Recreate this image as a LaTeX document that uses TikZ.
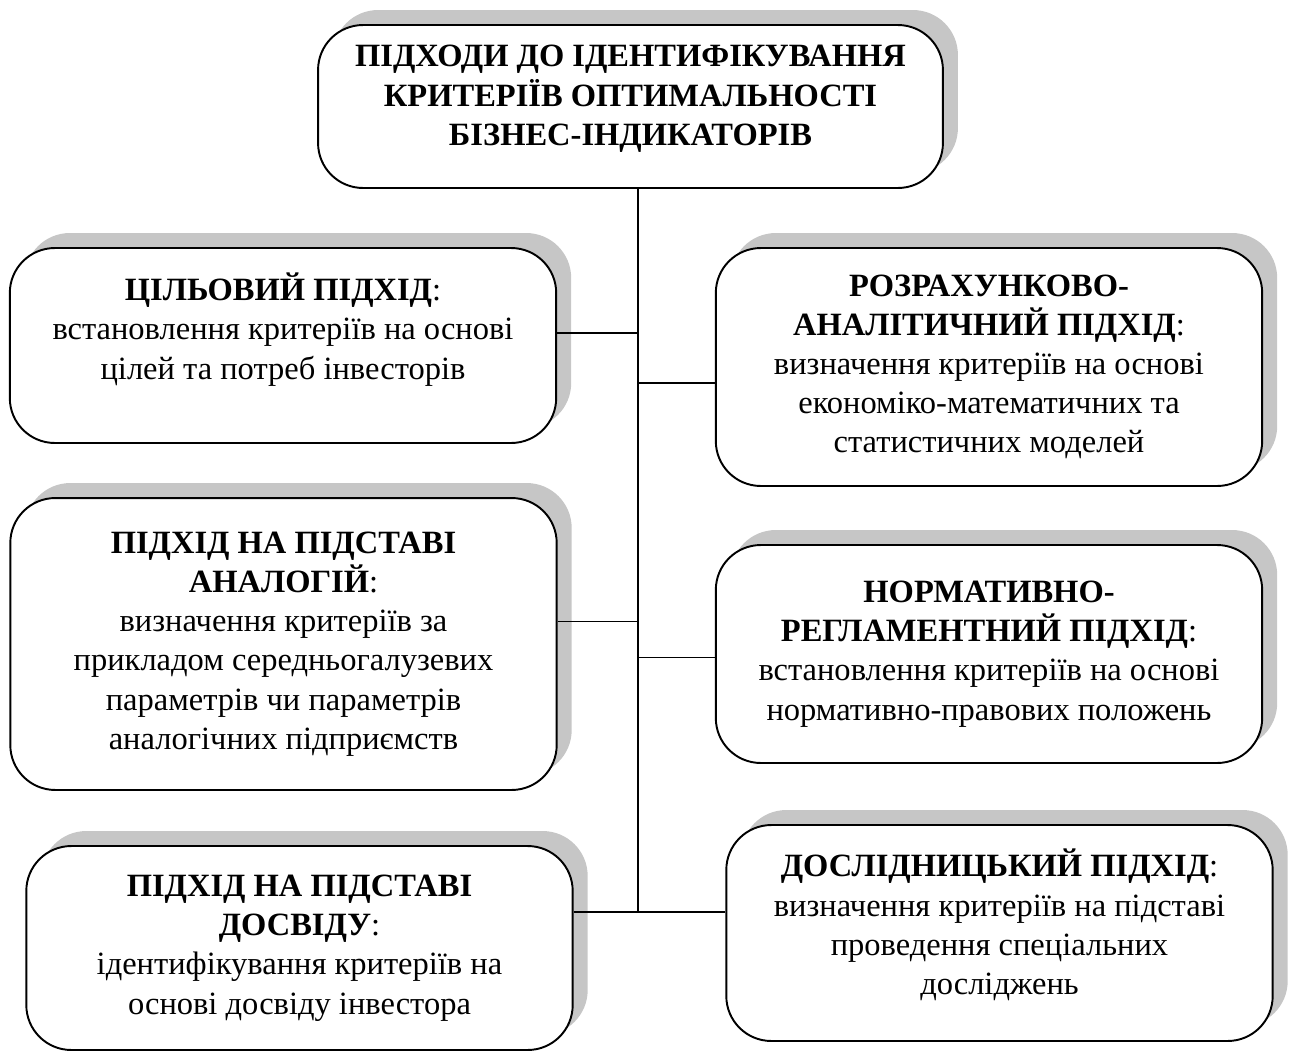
\documentclass[tikz,border=0pt]{standalone}
\usepackage{fontspec}
\setmainfont{Liberation Serif}
\usepackage{tikz}
\usetikzlibrary{shadows}

\begin{document}
\begin{tikzpicture}[x=0.02cm,y=-0.02cm,font=\fontsize{18.5}{22.3}\selectfont,
    approach/.style={draw,line width=1.1pt,fill=white,rounded corners=0.9cm,align=center,
      minimum width=10.93cm,
      drop shadow={shadow xshift=0.3cm,shadow yshift=0.3cm,fill=gray!45,opacity=1}},
    link/.style={line width=0.8pt}]
    \useasboundingbox (0,0) rectangle (1289,1052);

    % Root of the classification.
    \node[approach,minimum width=12.5cm,minimum height=3.26cm,text depth=0.45cm] (root) at (630.5,106.5)
      {\textbf{ПІДХОДИ ДО ІДЕНТИФІКУВАННЯ}\\\textbf{КРИТЕРІЇВ ОПТИМАЛЬНОСТІ}\\\textbf{БІЗНЕС-ІНДИКАТОРІВ}};

    % Left column of approaches.
    \node[approach,minimum height=3.9cm,text depth=0.78cm] (cel) at (283,345.5)
      {\textbf{ЦІЛЬОВИЙ ПІДХІД}:\\встановлення критеріїв на основі\\цілей та потреб інвесторів};
    \node[approach,minimum height=5.84cm] (analog) at (283.5,644)
      {\textbf{ПІДХІД НА ПІДСТАВІ}\\\textbf{АНАЛОГІЙ}:\\визначення критеріїв за\\прикладом середньогалузевих\\параметрів чи параметрів\\аналогічних підприємств};
    \node[approach,minimum height=4.08cm] (dosvid) at (299.5,948)
      {\textbf{ПІДХІД НА ПІДСТАВІ}\\\textbf{ДОСВІДУ}:\\ідентифікування критеріїв на\\основі досвіду інвестора};

    % Right column of approaches.
    \node[approach,minimum height=4.76cm] (rozr) at (989,367)
      {\textbf{РОЗРАХУНКОВО-}\\\textbf{АНАЛІТИЧНИЙ ПІДХІД}:\\визначення критеріїв на основі\\економіко-математичних та\\статистичних моделей};
    \node[approach,minimum height=4.36cm] (norm) at (989,654)
      {\textbf{НОРМАТИВНО-}\\\textbf{РЕГЛАМЕНТНИЙ ПІДХІД}:\\встановлення критеріїв на основі\\нормативно-правових положень};
    \node[approach,minimum height=4.32cm,text depth=0.45cm] (dosl) at (999.5,933)
      {\textbf{ДОСЛІДНИЦЬКИЙ ПІДХІД}:\\визначення критеріїв на підставі\\проведення спеціальних\\досліджень};

    % Spine and branches.
    \coordinate (spine) at (638,912);
    \draw[link] (root.south -| spine) -- (spine);
    \foreach \n/\a/\s in {cel/east/0.25cm,analog/east/0.45cm,dosvid/east/0.72cm,
                          rozr/west/-0.32cm,norm/west/-0.07cm,dosl/west/0.42cm}
      \draw[link] ([yshift=\s]\n.\a) coordinate (j) -- (j -| spine);
\end{tikzpicture}
\end{document}
